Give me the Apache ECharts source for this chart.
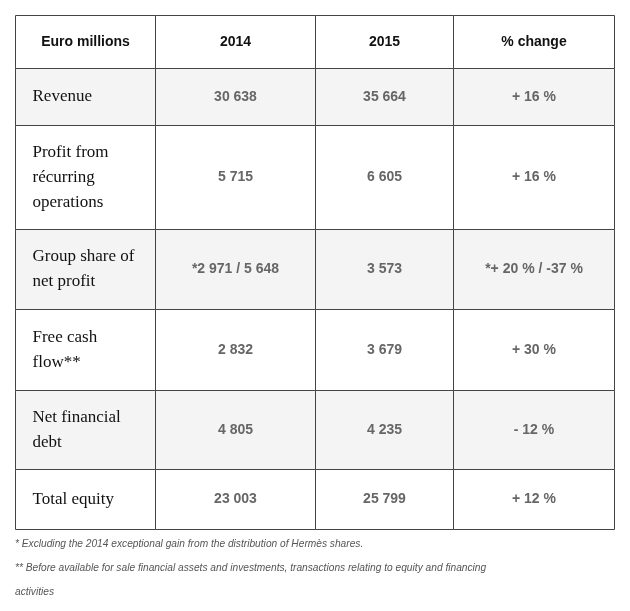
<!DOCTYPE html>
<html>
<head>
<meta charset="utf-8">
<script src="https://cdn.jsdelivr.net/npm/echarts@6/dist/echarts.min.js"></script>
<style>html,body{margin:0;padding:0;background:#fff;}#c{width:630px;height:611px;}</style>
</head>
<body>
<div id="c"></div>
<script>
// ---- data ----
const columns = ['Euro millions', '2014', '2015', '% change'];
const metrics = ['Revenue', 'Profit from\nrécurring\noperations', 'Group share of\nnet profit', 'Free cash\nflow**', 'Net financial\ndebt', 'Total equity'];
const values2014 = ['30 638', '5 715', '*2 971 / 5 648', '2 832', '4 805', '23 003'];
const values2015 = ['35 664', '6 605', '3 573', '3 679', '4 235', '25 799'];
const changes = ['+ 16 %', '+ 16 %', '*+ 20 % / -37 %', '+ 30 %', '- 12 %', '+ 12 %'];
const footnotes = [
  '* Excluding the 2014 exceptional gain from the distribution of Hermès shares.',
  '** Before available for sale financial assets and investments, transactions relating to equity and financing',
  'activities'
];

// ---- layout (table geometry in axis units) ----
const colEdges = [0, 140, 300, 438, 599];
const rowEdges = [0, 53, 110, 214, 294, 375, 454, 514];

// build cells
const cells = [];
columns.forEach((t, c) => cells.push({ value: [c, 0], text: t }));
metrics.forEach((m, i) => {
  const r = i + 1;
  cells.push({ value: [0, r], text: m });
  cells.push({ value: [1, r], text: values2014[i] });
  cells.push({ value: [2, r], text: values2015[i] });
  cells.push({ value: [3, r], text: changes[i] });
});

const chart = echarts.init(document.getElementById('c'));
chart.setOption({
  backgroundColor: '#fff',
  animation: false,
  grid: { left: 15, top: 15, width: 599, height: 514 },
  xAxis: { type: 'value', min: 0, max: 599, show: false },
  yAxis: { type: 'value', min: 0, max: 514, inverse: true, show: false },
  series: [{
    type: 'custom',
    data: cells,
    renderItem: function (params, api) {
      const c = api.value(0), r = api.value(1);
      const p0 = api.coord([colEdges[c], rowEdges[r]]);
      const p1 = api.coord([colEdges[c + 1], rowEdges[r + 1]]);
      const x0 = Math.round(p0[0]) + 0.5, y0 = Math.round(p0[1]) + 0.5;
      const x1 = Math.round(p1[0]) + 0.5, y1 = Math.round(p1[1]) + 0.5;
      const txt = cells[params.dataIndex].text;
      let textEl;
      if (r === 0) {
        textEl = { type: 'text', style: { text: txt, x: (x0 + x1) / 2, y: (y0 + y1) / 2, align: 'center', verticalAlign: 'middle', font: 'bold 14px "Liberation Sans", Arial, sans-serif', fill: '#111' } };
      } else if (c === 0) {
        textEl = { type: 'text', style: { text: txt, x: x0 + 17, y: (y0 + y1) / 2, align: 'left', verticalAlign: 'middle', font: '17px "Liberation Serif", "Times New Roman", serif', lineHeight: 25, fill: '#111' } };
      } else {
        textEl = { type: 'text', style: { text: txt, x: (x0 + x1) / 2, y: (y0 + y1) / 2, align: 'center', verticalAlign: 'middle', font: 'bold 14px "Liberation Sans", Arial, sans-serif', fill: '#666' } };
      }
      return {
        type: 'group',
        children: [
          { type: 'rect', shape: { x: x0, y: y0, width: x1 - x0, height: y1 - y0 }, style: { fill: (r % 2 === 1) ? '#f4f4f4' : '#ffffff', stroke: '#444', lineWidth: 1 } },
          textEl
        ]
      };
    }
  }],
  graphic: footnotes.map((f, i) => ({
    type: 'text',
    left: 15,
    top: 539 + i * 24,
    style: { text: f, font: 'italic 10.2px "Liberation Sans", Arial, sans-serif', fill: '#555' }
  }))
});
</script>
</body>
</html>
